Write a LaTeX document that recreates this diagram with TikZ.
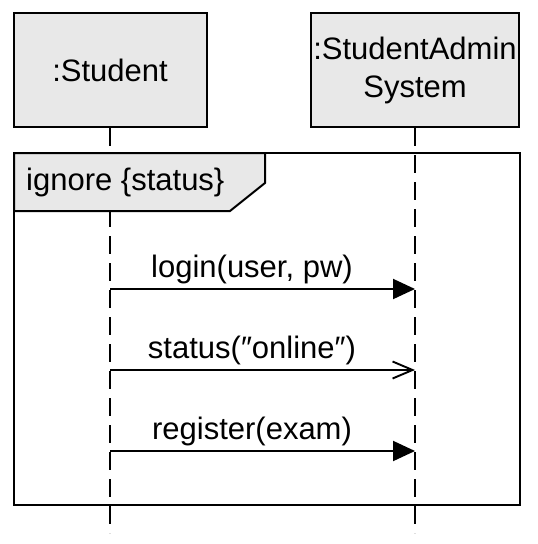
\documentclass[tikz,border=0pt]{standalone}
\usepackage{fontspec}
\setmainfont{Liberation Sans}
\usetikzlibrary{arrows.meta}
\begin{document}
\begin{tikzpicture}[x=1pt,y=-1pt,
  every node/.style={font=\fontsize{31}{38}\selectfont, inner sep=0pt},
  lifebox/.style={draw=black, line width=2pt, fill=black!9, minimum width=193pt, minimum height=114pt, align=center},
  lifeline/.style={line width=2pt, dash pattern=on 18pt off 9pt},
  syncmsg/.style={line width=2pt, -{Triangle[length=22pt,width=20pt]}},
  asyncmsg/.style={line width=2pt, -{Straight Barb[length=20pt,width=17pt,line width=1.9pt]}},
  msglabel/.style={anchor=base}
]
\useasboundingbox (0,0) rectangle (538,544);
% lifeline heads
\node[lifebox] (student) at (110,70) {:Student};
\node[lifebox, minimum width=208pt] (sys) at (415,70) {:StudentAdmin\\System};
% lifelines
\coordinate (sEnd) at (110,533);
\coordinate (yEnd) at (415,533);
\draw[lifeline] (student.south) -- (sEnd);
\draw[lifeline] (sys.south) -- (yEnd);
% frame
\coordinate (fTL) at (14,153);
\coordinate (fBR) at (520,505);
\draw[line width=2pt] (fTL) rectangle (fBR);
\coordinate (tabTR) at (265,153);
\coordinate (tabC1) at (265,183);
\coordinate (tabC2) at (230,211);
\coordinate (tabBL) at (14,211);
\draw[line width=2pt, fill=black!9, line join=miter] (fTL) -- (tabTR) -- (tabC1) -- (tabC2) -- (tabBL) -- cycle;
\node[anchor=west] (tablabel) at (26,182) {ignore \{status\}};
% messages
\coordinate (m1s) at (110,289);
\coordinate (m1e) at (415,289);
\draw[syncmsg] (m1s) -- (m1e);
\node[msglabel] (l1) at (252,277) {login(user, pw)};
\coordinate (m2s) at (110,370);
\coordinate (m2e) at (415,370);
\draw[asyncmsg] (m2s) -- (m2e);
\node[msglabel] (l2) at (252,358) {status(″online″)};
\coordinate (m3s) at (110,451);
\coordinate (m3e) at (415,451);
\draw[syncmsg] (m3s) -- (m3e);
\node[msglabel] (l3) at (252,439) {register(exam)};
\end{tikzpicture}
\end{document}
